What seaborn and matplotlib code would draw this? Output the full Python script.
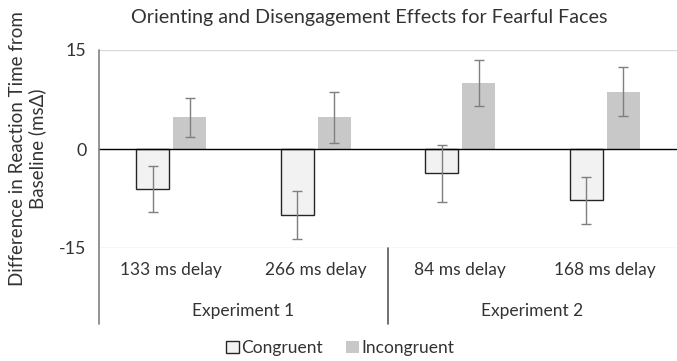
import pandas as pd
import matplotlib.pyplot as plt
import seaborn as sns
from matplotlib.patches import Patch
from matplotlib.transforms import blended_transform_factory

# valores
delays = ["133 ms delay", "266 ms delay", "84 ms delay", "168 ms delay"]
experiments = ["Experiment 1", "Experiment 2"]
conditions = ["Congruent", "Incongruent"]
congruent = [-6.0, -10.0, -3.7, -7.8]
incongruent = [4.8, 4.8, 10.0, 8.7]
congruent_err = [3.5, 3.7, 4.3, 3.6]
incongruent_err = [3.0, 3.9, 3.5, 3.7]
yticks = [-15, 0, 15]

df = pd.DataFrame({
    "delay": delays * 2,
    "condition": [conditions[0]] * 4 + [conditions[1]] * 4,
    "value": congruent + incongruent,
    "err": congruent_err + incongruent_err,
})

sns.set_theme(style="white")
plt.rcParams["font.family"] = ["Lato", "DejaVu Sans"]
text_color = "#333333"

fig = plt.figure(figsize=(6.77, 3.61), dpi=100)
ax = fig.add_axes([99 / 677, 1 - 248 / 361, 1 - 99 / 677, 198 / 361])

palette = {"Congruent": "#f2f2f2", "Incongruent": "#c8c8c8"}
sns.barplot(data=df, x="delay", y="value", hue="condition", order=delays,
            hue_order=conditions, palette=palette, width=0.51, gap=0.1,
            errorbar=None, legend=False, ax=ax, saturation=1)

# borda preta nas barras congruentes
n = len(delays)
for i, bar in enumerate(ax.patches[:2 * n]):
    if i < n:
        bar.set_edgecolor("#262626")
        bar.set_linewidth(1.0)
    else:
        bar.set_edgecolor("none")

# barras de erro a partir das posicoes das barras
for bar, (_, row) in zip(ax.patches[:2 * n], df.iterrows()):
    xc = bar.get_x() + bar.get_width() / 2
    ax.errorbar(xc, row["value"], yerr=row["err"], color="#7f7f7f",
                elinewidth=1.0, capsize=3.5, capthick=1.0, zorder=5)

ax.set_ylim(-15, 15)
ax.set_xlim(-0.5, n - 0.5)
ax.set_yticks(yticks)
ax.set_yticklabels([str(t) for t in yticks])
ax.axhline(0, color="black", lw=1.0, zorder=3)
for t in [-15, 15]:
    ax.axhline(t, color="#d9d9d9", lw=1.0, zorder=0)
for s in ax.spines.values():
    s.set_visible(False)

ax.tick_params(axis="y", length=0, pad=9, labelsize=12.8, labelcolor=text_color)
ax.tick_params(axis="x", length=0, pad=10, labelsize=12.5, labelcolor=text_color)
ax.set_xlabel("")
ax.set_ylabel("Difference in Reaction Time from\nBaseline (msΔ)", fontsize=13.5,
              color=text_color, labelpad=9)

# eixo vertical e separadores dos grupos
low = (248 - 324) / 198
ax.plot([0, 0], [1, low], transform=ax.transAxes, color="#808080", lw=1.2,
        clip_on=False, zorder=6)
trans = blended_transform_factory(ax.transData, ax.transAxes)
ax.plot([1.5, 1.5], [0, low], transform=trans, color="#595959", lw=1.2,
        clip_on=False)
for k, exp in enumerate(experiments):
    ax.text(2 * k + 0.5, (248 - 311) / 198, exp, transform=trans,
            ha="center", va="center", fontsize=12.5, color=text_color)

fig.text(369 / 677, 1 - 17 / 361, "Orienting and Disengagement Effects for Fearful Faces",
         ha="center", va="center", fontsize=14.2, color=text_color)

handles = [Patch(facecolor=palette[c], edgecolor="#262626" if c == "Congruent" else "none",
                 label=c) for c in conditions]
fig.legend(handles=handles, loc="center", bbox_to_anchor=(340 / 677, 1 - 348 / 361),
           ncol=2, frameon=False, fontsize=12.5, handlelength=0.75, handleheight=0.75,
           handletextpad=0.15, columnspacing=1.3, labelcolor=text_color)

plt.savefig("out.png", dpi=100)
